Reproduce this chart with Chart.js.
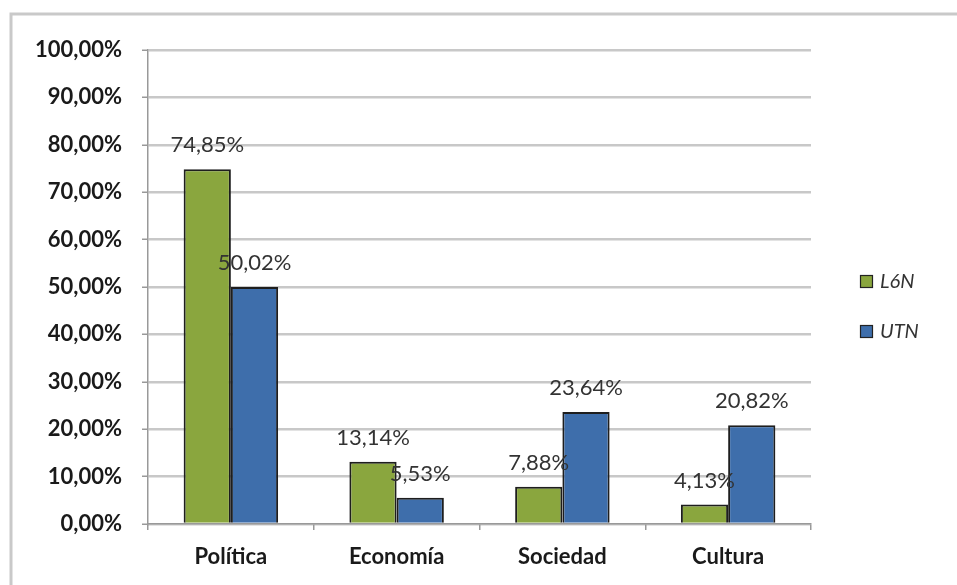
<!DOCTYPE html>
<html>
<head>
<meta charset="utf-8">
<script src="https://cdn.jsdelivr.net/npm/chart.js@4.4.0/dist/chart.umd.min.js"></script>
<style>
  html, body { margin: 0; padding: 0; background: #fff; }
  #wrap { width: 957px; height: 585px; }
</style>
</head>
<body>
<div id="wrap"><canvas id="grafico" width="957" height="585"></canvas></div>
<script>
const categorias = ["Política", "Economía", "Sociedad", "Cultura"]
const valores_l6n = [74.85, 13.14, 7.88, 4.13]
const valores_utn = [50.02, 5.53, 23.64, 20.82]
const nomes_series = ["L6N", "UTN"]

const fonte = "Lato, 'Open Sans', sans-serif"

function formatar(v) {
    return v.toFixed(2).replace(".", ",") + "%"
}

// moldura cinzenta por cima e à esquerda
const moldura = {
    id: "moldura",
    beforeDraw(chart) {
        const ctx = chart.ctx
        ctx.save()
        ctx.strokeStyle = "#c9c9c9"
        ctx.lineWidth = 3
        ctx.beginPath()
        ctx.moveTo(11, 585)
        ctx.lineTo(11, 14)
        ctx.lineTo(957, 14)
        ctx.stroke()
        ctx.restore()
    }
}

// valores por cima das barras
const rotulos = {
    id: "rotulos",
    afterDatasetsDraw(chart) {
        const ctx = chart.ctx
        ctx.save()
        ctx.font = "22px " + fonte
        ctx.fillStyle = "#333"
        ctx.textAlign = "center"
        ctx.textBaseline = "middle"
        chart.data.datasets.forEach((ds, i) => {
            chart.getDatasetMeta(i).data.forEach((bar, j) => {
                ctx.fillText(formatar(ds.data[j]), bar.x, bar.y - 24)
            })
        })
        ctx.restore()
    }
}

// legenda à direita
const legenda = {
    id: "legenda",
    afterDraw(chart) {
        const ctx = chart.ctx
        ctx.save()
        ctx.font = "italic 20px " + fonte
        ctx.textBaseline = "middle"
        chart.data.datasets.forEach((ds, i) => {
            const y = 281 + i * 50
            ctx.fillStyle = ds.backgroundColor
            ctx.fillRect(860, y - 6, 13, 13)
            ctx.strokeStyle = "#222"
            ctx.lineWidth = 1.2
            ctx.strokeRect(860.5, y - 5.5, 12, 12)
            ctx.fillStyle = "#333"
            ctx.fillText(ds.label, 880, y + 1)
        })
        ctx.restore()
    }
}

const dados = {
    labels: categorias,
    datasets: [{
        label: nomes_series[0],
        data: valores_l6n,
        backgroundColor: "#8aa63e",
        borderColor: "#1e1e1e",
        borderWidth: 2,
        borderSkipped: "bottom",
        categoryPercentage: 0.57,
        barPercentage: 1.0,
    }, {
        label: nomes_series[1],
        data: valores_utn,
        backgroundColor: "#3e6eab",
        borderColor: "#1e1e1e",
        borderWidth: 2,
        borderSkipped: "bottom",
        categoryPercentage: 0.57,
        barPercentage: 1.0,
    }]
}

const config = {
    type: "bar",
    data: dados,
    options: {
        responsive: false,
        animation: false,
        layout: { padding: { top: 50, right: 146, left: 0, bottom: 0 } },
        plugins: {
            legend: { display: false },
            tooltip: { enabled: false },
        },
        scales: {
            y: {
                min: 0,
                max: 100,
                afterFit(scale) { scale.width = 148 },
                ticks: {
                    stepSize: 10,
                    padding: 20,
                    color: "#1a1a1a",
                    font: { family: fonte, size: 22, weight: "bold" },
                    callback: (v) => formatar(v),
                },
                grid: { color: "#c8c8c8", lineWidth: 2.5, tickLength: 6, tickColor: "#999", tickWidth: 1.5 },
                border: { color: "#999", width: 1.5 },
            },
            x: {
                afterFit(scale) { scale.height = 61 },
                ticks: {
                    padding: 14,
                    color: "#1a1a1a",
                    font: { family: fonte, size: 22, weight: "bold" },
                },
                grid: { drawOnChartArea: false, tickLength: 6, color: "#999", lineWidth: 1.5 },
                border: { color: "#999", width: 1.5 },
            }
        }
    },
    plugins: [moldura, rotulos, legenda]
}

new Chart(document.getElementById("grafico"), config)
</script>
</body>
</html>
